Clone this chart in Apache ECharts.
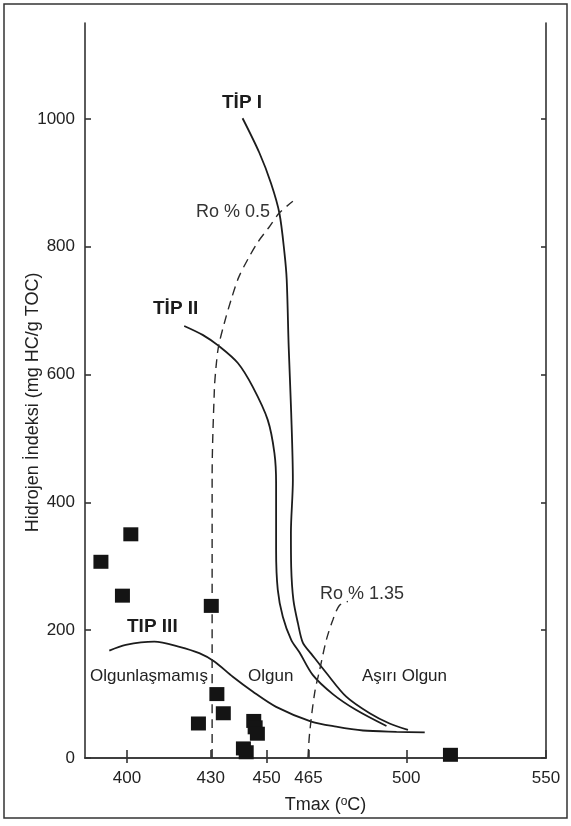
<!DOCTYPE html>
<html>
<head>
<meta charset="utf-8">
<script src="https://cdn.jsdelivr.net/npm/echarts@6/dist/echarts.min.js"></script>
<style>
html,body{margin:0;padding:0;background:#fff;}
#chart{width:571px;height:826px;}
</style>
</head>
<body>
<div id="chart"></div>
<script>
// ---- Axis ticks ----
const xTickValues = [400, 430, 450, 465, 500, 550];
const xTopTickValues = [400, 450, 500];
const yTickValues = [0, 200, 400, 600, 800, 1000];

// ---- Samples (squares) ----
const sampleTmax = [401.4, 390.7, 398.4, 430.2, 432.2, 434.5, 425.6, 445.4, 445.9, 446.7, 441.7, 442.7, 515.8];
const sampleHI   = [350,   307,   254,   238,   100,   70,    54,    58,    48,    38,    15,    9,     5];

// ---- Kerogen type curves ----
const tip1Tmax = [441.4, 447.4, 451.6, 454.6, 456.4, 457.2, 457.9, 458.8, 459.4, 458.7, 458.8, 459.6, 461.2, 463.0, 466.0, 471.4, 478.5, 486.9, 494.0, 500.6];
const tip1HI   = [1001,  947,   899,   852,   790,   748,   644,   540,   435,   352,   299,   247,   211,   180,   163,   133,   96,    70,    54,    44];

const tip2Tmax = [420.5, 427.1, 433.1, 439.7, 445.0, 450.4, 452.8, 453.4, 453.4, 454.0, 455.8, 458.8, 461.8, 466.5, 473.7, 482.1, 492.9];
const tip2HI   = [676,   662,   644,   618,   581,   529,   477,   430,   326,   263,   221,   185,   165,   130,   100,   75,    50];

const tip3Tmax = [393.7, 399.6, 409.8, 418.8, 425.9, 431.3, 437.9, 445.0, 453.4, 466.0, 474.9, 484.5, 496.5, 506.6];
const tip3HI   = [168,   177,   182,   174,   164,   151,   127,   104,   80,    57,    49,    43,    41,    40];

// ---- Vitrinite reflectance boundaries (dashed) ----
const ro05Tmax = [430.5, 430.5, 431.3, 431.9, 432.8, 434.9, 437.3, 440.0, 443.5, 447.0, 450.8, 454.6, 459.4];
const ro05HI   = [0,     440,   576,   612,   644,   681,   717,   752,   782,   808,   830,   853,   871];

const ro135Tmax = [464.8, 465.4, 467.2, 469.0, 471.4, 473.7, 476.1, 479.1];
const ro135HI   = [0,     39,    102,   138,   185,   216,   239,   245];

const zip = (xs, ys) => xs.map((x, i) => [x, ys[i]]);

const FONT = 'Liberation Sans, Arial, sans-serif';
const INK = '#1c1c1c';
const AXIS = '#333';

const chart = echarts.init(document.getElementById('chart'), null, {renderer: 'canvas'});

const curveStyle = {color: INK, width: 1.8};
const dashStyle = {color: '#2a2a2a', width: 1.4, type: [9, 6]};

function curve(name, data, style) {
  return {
    name, type: 'line', data, smooth: 0.3, symbol: 'none',
    lineStyle: style, z: 2, silent: true
  };
}

chart.setOption({
  backgroundColor: '#fff',
  animation: false,
  grid: {left: 85, right: 25, top: 23, bottom: 68, containLabel: false},
  xAxis: [{
    type: 'value', min: 385, max: 550, position: 'bottom',
    axisLine: {show: true, lineStyle: {color: AXIS, width: 1.6}},
    axisTick: {show: true, inside: true, length: 8, customValues: xTickValues, lineStyle: {color: AXIS, width: 1.6}},
    axisLabel: {customValues: xTickValues, margin: 12, color: '#222', fontSize: 17, fontFamily: FONT, formatter: v => String(v)},
    splitLine: {show: false},
    name: 'Tmax ({s|o}C)', nameLocation: 'middle', nameGap: 38, nameMoveOverlap: false,
    nameTextStyle: {
      fontSize: 18, color: '#222', fontFamily: FONT, padding: [0, 0, 0, 20],
      rich: {s: {fontSize: 12, fontFamily: FONT, color: '#222', verticalAlign: 'top'}}
    }
  }, {
    type: 'value', min: 385, max: 550, position: 'top',
    axisLine: {show: true, lineStyle: {color: AXIS, width: 1.6}},
    axisTick: {show: true, inside: true, length: 5, customValues: xTopTickValues, lineStyle: {color: AXIS, width: 1.6}},
    axisLabel: {show: false},
    splitLine: {show: false}
  }],
  yAxis: [{
    type: 'value', min: 0, max: 1150, position: 'left',
    axisLine: {show: true, lineStyle: {color: AXIS, width: 1.6}},
    axisTick: {show: true, inside: true, length: 6, customValues: yTickValues, lineStyle: {color: AXIS, width: 1.6}},
    axisLabel: {customValues: yTickValues, margin: 10, color: '#222', fontSize: 17, fontFamily: FONT, formatter: v => String(v)},
    splitLine: {show: false},
    name: 'Hidrojen İndeksi (mg HC/g TOC)', nameLocation: 'middle', nameGap: 43, nameRotate: 90, nameMoveOverlap: false,
    nameTextStyle: {fontSize: 18, color: '#222', fontFamily: FONT, padding: [0, 24, 0, 0]}
  }, {
    type: 'value', min: 0, max: 1150, position: 'right',
    axisLine: {show: true, lineStyle: {color: AXIS, width: 1.6}},
    axisTick: {show: true, inside: true, length: 5, customValues: yTickValues, lineStyle: {color: AXIS, width: 1.6}},
    axisLabel: {show: false},
    splitLine: {show: false}
  }],
  series: [
    curve('TİP I', zip(tip1Tmax, tip1HI), curveStyle),
    curve('TİP II', zip(tip2Tmax, tip2HI), curveStyle),
    curve('TIP III', zip(tip3Tmax, tip3HI), curveStyle),
    curve('Ro % 0.5', zip(ro05Tmax, ro05HI), dashStyle),
    curve('Ro % 1.35', zip(ro135Tmax, ro135HI), dashStyle),
    {
      name: 'Örnekler', type: 'scatter', data: zip(sampleTmax, sampleHI),
      symbol: 'rect', symbolSize: [15, 14],
      itemStyle: {color: '#141414', opacity: 1}, z: 5, silent: true
    }
  ],
  graphic: [
    {type: 'rect', shape: {x: 4, y: 4, width: 563, height: 814}, style: {fill: 'none', stroke: '#333', lineWidth: 1.5}, silent: true, z: -1},
    {type: 'text', x: 222, y: 103, style: {text: 'TİP I', font: 'bold 19px ' + FONT, fill: INK, textVerticalAlign: 'middle'}},
    {type: 'text', x: 153, y: 309, style: {text: 'TİP II', font: 'bold 19px ' + FONT, fill: INK, textVerticalAlign: 'middle'}},
    {type: 'text', x: 127, y: 627, style: {text: 'TIP III', font: 'bold 19px ' + FONT, fill: INK, textVerticalAlign: 'middle'}},
    {type: 'text', x: 196, y: 212, style: {text: 'Ro % 0.5', font: '18px ' + FONT, fill: '#333', textVerticalAlign: 'middle'}},
    {type: 'text', x: 320, y: 594, style: {text: 'Ro % 1.35', font: '18px ' + FONT, fill: '#333', textVerticalAlign: 'middle'}},
    {type: 'text', x: 90, y: 676, style: {text: 'Olgunlaşmamış', font: '17px ' + FONT, fill: '#222', textVerticalAlign: 'middle'}},
    {type: 'text', x: 248, y: 676, style: {text: 'Olgun', font: '17px ' + FONT, fill: '#222', textVerticalAlign: 'middle'}},
    {type: 'text', x: 362, y: 676, style: {text: 'Aşırı Olgun', font: '17px ' + FONT, fill: '#222', textVerticalAlign: 'middle'}}
  ]
});
</script>
</body>
</html>
